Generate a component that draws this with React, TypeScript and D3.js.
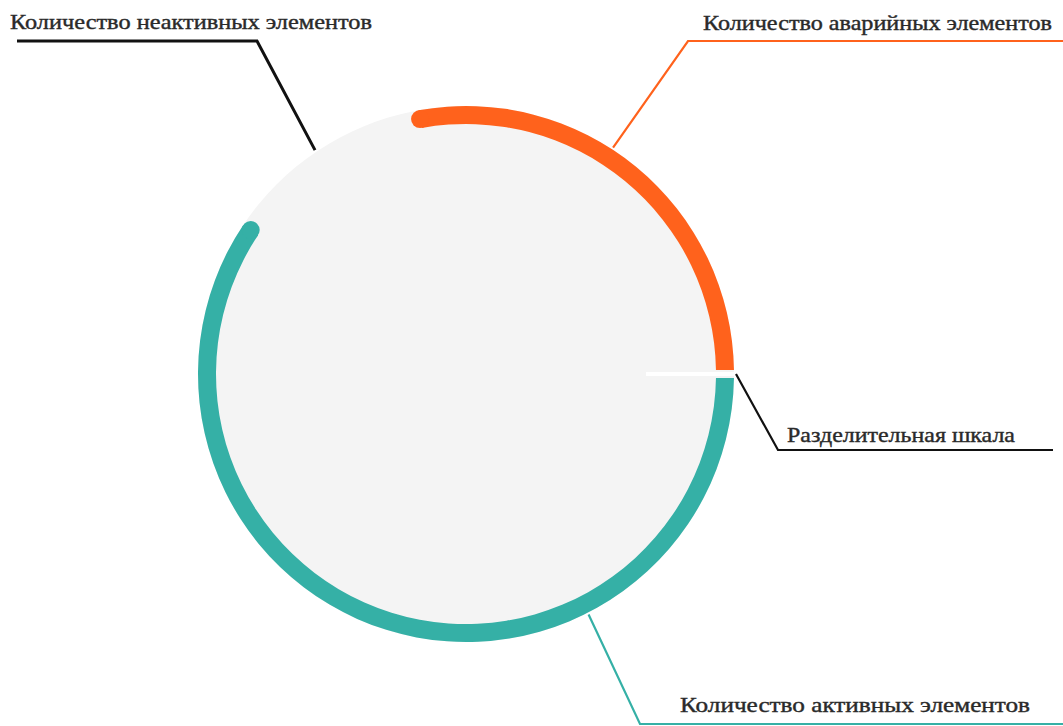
import React, { useEffect, useRef } from "react";
import * as d3 from "d3";

// segment data (share of elements), drawn clockwise from 3 o'clock
const categories = ["active", "inactive", "emergency"];
const values = [60, 12, 28];
const colors = ["#35b0a6", "none", "#ff621c"];

// callout labels
const labelTexts = [
  "Количество активных элементов",
  "Количество неактивных элементов",
  "Количество аварийных элементов",
  "Разделительная шкала",
];
const labelColors = ["#35b0a6", "#111111", "#ff621c", "#111111"];
const labelAngles = [153, 326, 33, 90]; // degrees, clockwise from 12 o'clock

const App = () => {
  const ref = useRef<SVGSVGElement>(null);

  useEffect(() => {
    const width = 1063,
      height = 726;
    const svg = d3.select(ref.current);
    svg.selectAll("*").remove();

    const cx = 466,
      cy = 374,
      outer = 268,
      band = 18,
      mid = outer - band / 2;

    const g = svg.append("g").attr("transform", `translate(${cx},${cy})`);

    // background disc
    g.append("circle").attr("r", outer).attr("fill", "#f4f4f4");

    const pie = d3
      .pie<number>()
      .sort(null)
      .value((d) => d)
      .startAngle(Math.PI / 2)
      .endAngle(Math.PI / 2 + Math.PI * 2)
      .padAngle(0.03);

    const arcs = pie(values);

    const arc = d3
      .arc<d3.PieArcDatum<number>>()
      .innerRadius(outer - band)
      .outerRadius(outer)
      .padRadius(mid);

    g.selectAll(".seg")
      .data(arcs.filter((d, i) => colors[i] !== "none"))
      .enter()
      .append("path")
      .attr("class", "seg")
      .attr("d", arc)
      .attr("fill", (d) => colors[d.index]);

    // rounded cap on the free ends (teal end, orange start)
    const active = arcs[0];
    const emerg = arcs[2];
    const capA = d3.pointRadial(active.endAngle - active.padAngle / 2, mid);
    const capE = d3.pointRadial(emerg.startAngle + emerg.padAngle / 2, mid);
    g.append("circle")
      .attr("cx", capA[0])
      .attr("cy", capA[1])
      .attr("r", band / 2)
      .attr("fill", colors[0]);
    g.append("circle")
      .attr("cx", capE[0])
      .attr("cy", capE[1])
      .attr("r", band / 2)
      .attr("fill", colors[2]);

    // separator scale
    const s0 = d3.pointRadial(Math.PI / 2, 180);
    const s1 = d3.pointRadial(Math.PI / 2, outer);
    g.append("line")
      .attr("x1", s0[0])
      .attr("y1", s0[1])
      .attr("x2", s1[0])
      .attr("y2", s1[1])
      .attr("stroke", "#ffffff")
      .attr("stroke-width", 4);

    // callouts: [elbow x, elbow y, end x, text x, text y, text width]
    const callouts = [
      [640, 724, 1063, 680, 712, 350],
      [257, 41, 17, 10, 29, 362],
      [688, 41, 1063, 703, 30, 349],
      [778, 450, 1053, 787, 442, 228],
    ];

    labelTexts.forEach((t, i) => {
      const a = (labelAngles[i] * Math.PI) / 180;
      const p = d3.pointRadial(a, outer + 2);
      const [ex, ey, endX, tx, ty, tw] = callouts[i];
      svg
        .append("path")
        .attr(
          "d",
          d3.line()([
            [cx + p[0], cy + p[1]],
            [ex, ey],
            [endX, ey],
          ])
        )
        .attr("fill", "none")
        .attr("stroke", labelColors[i])
        .attr("stroke-width", i === 1 ? 3 : 2.2);
      svg
        .append("text")
        .attr("x", tx)
        .attr("y", ty)
        .attr("font-family", "'Liberation Serif', 'Times New Roman', serif")
        .attr("font-size", 21)
        .attr("fill", "#2a2a2a")
        .attr("stroke", "#2a2a2a")
        .attr("stroke-width", 0.4)
        .attr("textLength", tw)
        .attr("lengthAdjust", "spacingAndGlyphs")
        .text(t);
    });

    svg.attr("width", width).attr("height", height);
  }, []);

  return (
    <svg
      ref={ref}
      width={1063}
      height={726}
      style={{ position: "absolute", left: 0, top: 0, background: "#fff" }}
    />
  );
};

export default App;
